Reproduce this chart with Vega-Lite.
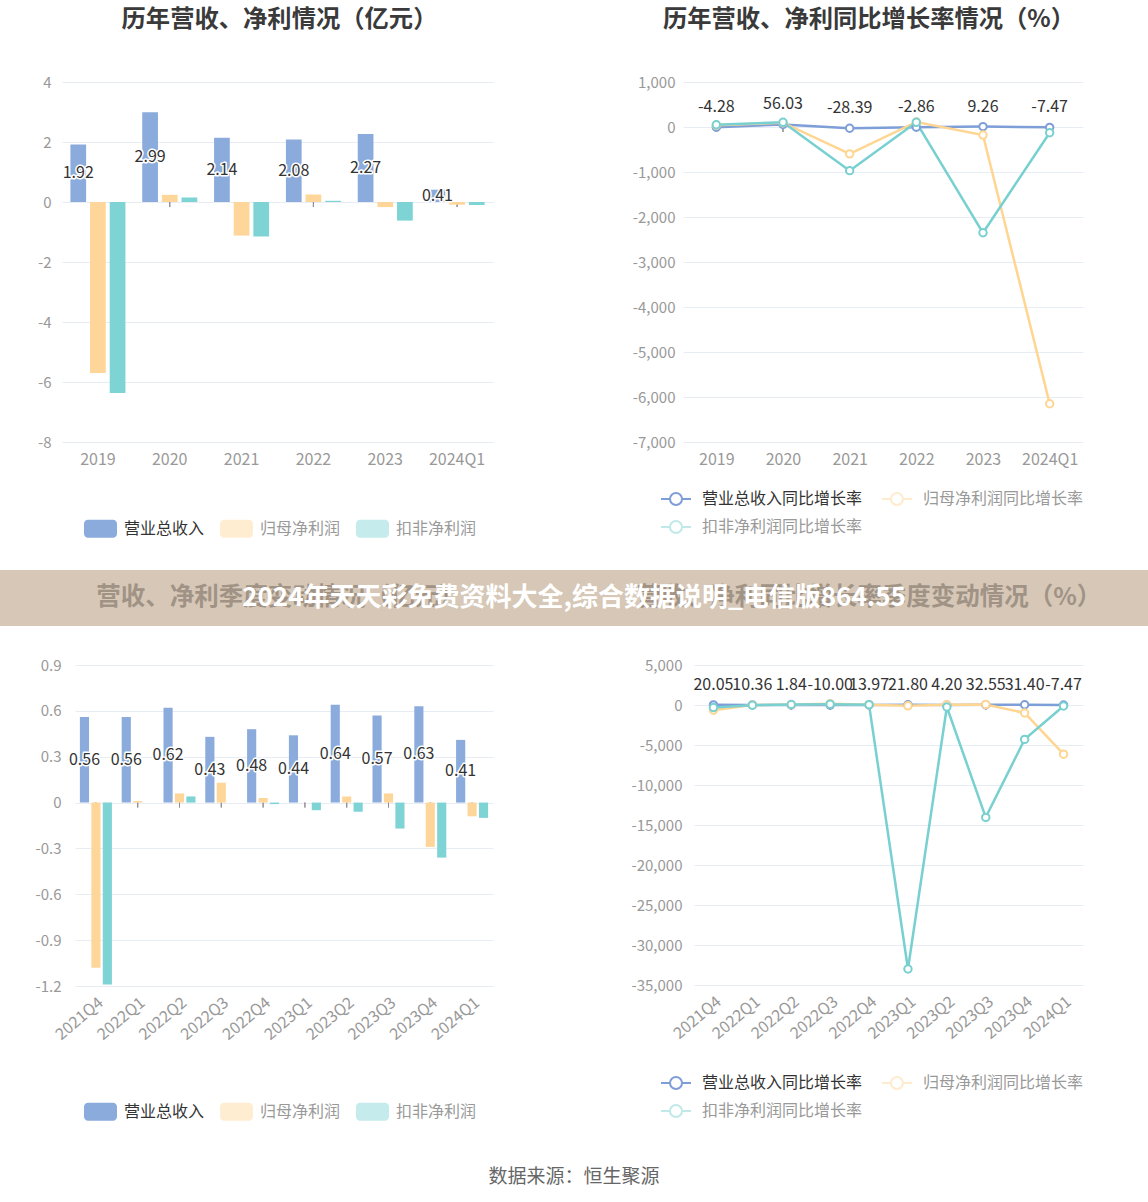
{
  "$schema": "https://vega.github.io/schema/vega-lite/v6.json",
  "background": "white",
  "padding": {"top": 7, "left": 0, "right": 0, "bottom": 0},
  "spacing": 32,
  "datasets": {
    "annual": [
      {"period": "2019", "series": "营业总收入", "value": 1.92},
      {"period": "2019", "series": "归母净利润", "value": -5.70},
      {"period": "2019", "series": "扣非净利润", "value": -6.37},
      {"period": "2020", "series": "营业总收入", "value": 2.99},
      {"period": "2020", "series": "归母净利润", "value": 0.24},
      {"period": "2020", "series": "扣非净利润", "value": 0.15},
      {"period": "2021", "series": "营业总收入", "value": 2.14},
      {"period": "2021", "series": "归母净利润", "value": -1.12},
      {"period": "2021", "series": "扣非净利润", "value": -1.15},
      {"period": "2022", "series": "营业总收入", "value": 2.08},
      {"period": "2022", "series": "归母净利润", "value": 0.25},
      {"period": "2022", "series": "扣非净利润", "value": 0.04},
      {"period": "2023", "series": "营业总收入", "value": 2.27},
      {"period": "2023", "series": "归母净利润", "value": -0.17},
      {"period": "2023", "series": "扣非净利润", "value": -0.62},
      {"period": "2024Q1", "series": "营业总收入", "value": 0.41},
      {"period": "2024Q1", "series": "归母净利润", "value": -0.09},
      {"period": "2024Q1", "series": "扣非净利润", "value": -0.10}
    ],
    "annualGrowth": [
      {"period": "2019", "series": "营业总收入同比增长率", "value": -4.28},
      {"period": "2020", "series": "营业总收入同比增长率", "value": 56.03},
      {"period": "2021", "series": "营业总收入同比增长率", "value": -28.39},
      {"period": "2022", "series": "营业总收入同比增长率", "value": -2.86},
      {"period": "2023", "series": "营业总收入同比增长率", "value": 9.26},
      {"period": "2024Q1", "series": "营业总收入同比增长率", "value": -7.47},
      {"period": "2019", "series": "归母净利润同比增长率", "value": 40},
      {"period": "2020", "series": "归母净利润同比增长率", "value": 95},
      {"period": "2021", "series": "归母净利润同比增长率", "value": -597},
      {"period": "2022", "series": "归母净利润同比增长率", "value": 112},
      {"period": "2023", "series": "归母净利润同比增长率", "value": -179},
      {"period": "2024Q1", "series": "归母净利润同比增长率", "value": -6150},
      {"period": "2019", "series": "扣非净利润同比增长率", "value": 50},
      {"period": "2020", "series": "扣非净利润同比增长率", "value": 104},
      {"period": "2021", "series": "扣非净利润同比增长率", "value": -970},
      {"period": "2022", "series": "扣非净利润同比增长率", "value": 104},
      {"period": "2023", "series": "扣非净利润同比增长率", "value": -2351},
      {"period": "2024Q1", "series": "扣非净利润同比增长率", "value": -127}
    ],
    "quarter": [
      {"period": "2021Q4", "series": "营业总收入", "value": 0.56},
      {"period": "2021Q4", "series": "归母净利润", "value": -1.08},
      {"period": "2021Q4", "series": "扣非净利润", "value": -1.19},
      {"period": "2022Q1", "series": "营业总收入", "value": 0.56},
      {"period": "2022Q1", "series": "归母净利润", "value": 0.01},
      {"period": "2022Q1", "series": "扣非净利润", "value": 0.0},
      {"period": "2022Q2", "series": "营业总收入", "value": 0.62},
      {"period": "2022Q2", "series": "归母净利润", "value": 0.06},
      {"period": "2022Q2", "series": "扣非净利润", "value": 0.04},
      {"period": "2022Q3", "series": "营业总收入", "value": 0.43},
      {"period": "2022Q3", "series": "归母净利润", "value": 0.13},
      {"period": "2022Q3", "series": "扣非净利润", "value": 0.0},
      {"period": "2022Q4", "series": "营业总收入", "value": 0.48},
      {"period": "2022Q4", "series": "归母净利润", "value": 0.03},
      {"period": "2022Q4", "series": "扣非净利润", "value": -0.01},
      {"period": "2023Q1", "series": "营业总收入", "value": 0.44},
      {"period": "2023Q1", "series": "归母净利润", "value": 0.0},
      {"period": "2023Q1", "series": "扣非净利润", "value": -0.05},
      {"period": "2023Q2", "series": "营业总收入", "value": 0.64},
      {"period": "2023Q2", "series": "归母净利润", "value": 0.04},
      {"period": "2023Q2", "series": "扣非净利润", "value": -0.06},
      {"period": "2023Q3", "series": "营业总收入", "value": 0.57},
      {"period": "2023Q3", "series": "归母净利润", "value": 0.06},
      {"period": "2023Q3", "series": "扣非净利润", "value": -0.17},
      {"period": "2023Q4", "series": "营业总收入", "value": 0.63},
      {"period": "2023Q4", "series": "归母净利润", "value": -0.29},
      {"period": "2023Q4", "series": "扣非净利润", "value": -0.36},
      {"period": "2024Q1", "series": "营业总收入", "value": 0.41},
      {"period": "2024Q1", "series": "归母净利润", "value": -0.09},
      {"period": "2024Q1", "series": "扣非净利润", "value": -0.10}
    ],
    "quarterGrowth": [
      {"period": "2021Q4", "series": "营业总收入同比增长率", "value": 20.05},
      {"period": "2022Q1", "series": "营业总收入同比增长率", "value": 10.36},
      {"period": "2022Q2", "series": "营业总收入同比增长率", "value": 1.84},
      {"period": "2022Q3", "series": "营业总收入同比增长率", "value": -10.00},
      {"period": "2022Q4", "series": "营业总收入同比增长率", "value": 13.97},
      {"period": "2023Q1", "series": "营业总收入同比增长率", "value": 21.80},
      {"period": "2023Q2", "series": "营业总收入同比增长率", "value": 4.20},
      {"period": "2023Q3", "series": "营业总收入同比增长率", "value": 32.55},
      {"period": "2023Q4", "series": "营业总收入同比增长率", "value": 31.40},
      {"period": "2024Q1", "series": "营业总收入同比增长率", "value": -7.47},
      {"period": "2021Q4", "series": "归母净利润同比增长率", "value": -650},
      {"period": "2022Q1", "series": "归母净利润同比增长率", "value": 0},
      {"period": "2022Q2", "series": "归母净利润同比增长率", "value": 50},
      {"period": "2022Q3", "series": "归母净利润同比增长率", "value": 150},
      {"period": "2022Q4", "series": "归母净利润同比增长率", "value": 40},
      {"period": "2023Q1", "series": "归母净利润同比增长率", "value": -100},
      {"period": "2023Q2", "series": "归母净利润同比增长率", "value": 30},
      {"period": "2023Q3", "series": "归母净利润同比增长率", "value": 60},
      {"period": "2023Q4", "series": "归母净利润同比增长率", "value": -1000},
      {"period": "2024Q1", "series": "归母净利润同比增长率", "value": -6150},
      {"period": "2021Q4", "series": "扣非净利润同比增长率", "value": -320},
      {"period": "2022Q1", "series": "扣非净利润同比增长率", "value": -30},
      {"period": "2022Q2", "series": "扣非净利润同比增长率", "value": 60},
      {"period": "2022Q3", "series": "扣非净利润同比增长率", "value": 100},
      {"period": "2022Q4", "series": "扣非净利润同比增长率", "value": 40},
      {"period": "2023Q1", "series": "扣非净利润同比增长率", "value": -33000},
      {"period": "2023Q2", "series": "扣非净利润同比增长率", "value": -250},
      {"period": "2023Q3", "series": "扣非净利润同比增长率", "value": -14050},
      {"period": "2023Q4", "series": "扣非净利润同比增长率", "value": -4300},
      {"period": "2024Q1", "series": "扣非净利润同比增长率", "value": -127}
    ],
    "bannerTitles": [
      {"side": "左", "text": "营收、净利季度变动情况（亿元）"},
      {"side": "右", "text": "营收、净利同比增长率季度变动情况（%）"}
    ],
    "watermark": [{"text": "2024年天天彩免费资料大全,综合数据说明_电信版864.55"}],
    "source": [{"text": "数据来源：恒生聚源"}],
    "empty": []
  },
  "vconcat": [
    {
      "hconcat": [
        {"width": 1, "height": 1, "data": {"name": "empty"}, "mark": "point"},
        {
          "width": 431, "height": 360,
          "data": {"name": "annual"},
          "title": {"text": "历年营收、净利情况（亿元）", "fontSize": 24.3, "fontWeight": "bold", "color": "#3A3A3A", "frame": "group", "anchor": "middle", "dx": 2, "offset": 43},
          "encoding": {
            "x": {"field": "period", "type": "nominal", "sort": null, "scale": {"paddingInner": 0.234, "paddingOuter": 0.117}, "axis": {"labelAngle": 0, "labelPadding": 9}}
          },
          "layer": [
            {
              "layer": [
                {"mark": {"type": "tick", "orient": "vertical", "color": "#8A8A8A", "size": 5, "thickness": 1, "yOffset": 2.5}, "encoding": {"y": {"datum": 0, "type": "quantitative"}}},
                {
                  "mark": {"type": "bar"},
                  "encoding": {
                    "xOffset": {"field": "series", "type": "nominal", "sort": null, "scale": {"domain": ["营业总收入", "归母净利润", "扣非净利润"], "paddingInner": 0.2}},
                    "y": {"field": "value", "type": "quantitative", "stack": null, "scale": {"domain": [-8, 4], "nice": false}, "axis": {"values": [-8, -6, -4, -2, 0, 2, 4], "tickCount": 20, "format": "~g", "grid": true, "labelOverlap": false, "labelPadding": 11, "minExtent": 61, "maxExtent": 61}},
                    "color": {"field": "series", "type": "nominal", "scale": {"domain": ["营业总收入", "归母净利润", "扣非净利润"], "range": ["#8AABDB", "#FFD699", "#7ED3D5"]},
                      "legend": {"orient": "none", "legendX": 22, "legendY": 430, "direction": "horizontal", "title": null, "labelLimit": 400, "symbolType": "M-0.76,-0.545H0.76A0.24,0.24,0,0,1,1,-0.305V0.305A0.24,0.24,0,0,1,0.76,0.545H-0.76A0.24,0.24,0,0,1,-1,0.305V-0.305A0.24,0.24,0,0,1,-0.76,-0.545Z", "symbolSize": 1089, "symbolStrokeWidth": 0, "labelFontSize": 16, "labelOffset": 7, "columnPadding": 15,
                        "encode": {"labels": {"update": {"fill": {"signal": "datum.value === '营业总收入' ? '#333333' : '#999999'"}}}, "symbols": {"update": {"opacity": {"signal": "datum.value === '营业总收入' ? 1 : 0.45"}}}}}}
                  }
                },
                {"mark": {"type": "rule", "color": "#8A8A8A", "strokeWidth": 1.2}, "encoding": {"y": {"datum": 0, "type": "quantitative"}}}
              ]
            },
            {
              "transform": [{"filter": "datum.series === '营业总收入'"}],
              "encoding": {
                "xOffset": {"field": "series", "type": "nominal", "sort": null, "scale": {"domain": ["营业总收入", "归母净利润", "扣非净利润"], "paddingInner": 0.2}},
                "y": {"field": "value", "type": "quantitative", "scale": {"domain": [-16, 8], "nice": false}, "axis": null},
                "text": {"field": "value", "type": "quantitative", "format": ".2f"}
              },
              "layer": [
                {"mark": {"type": "text", "fontSize": 16, "fill": "white", "stroke": "white", "strokeWidth": 3, "strokeJoin": "round"}},
                {"mark": {"type": "text", "fontSize": 16, "fill": "#333333"}}
              ]
            }
          ],
          "resolve": {"scale": {"y": "independent"}}
        },
        {"width": 120, "height": 1, "data": {"name": "empty"}, "mark": "point"},
        {
          "width": 400, "height": 360,
          "data": {"name": "annualGrowth"},
          "title": {"text": "历年营收、净利同比增长率情况（%）", "fontSize": 24.3, "fontWeight": "bold", "color": "#3A3A3A", "frame": "group", "anchor": "middle", "dx": -14, "offset": 43},
          "encoding": {
            "x": {"field": "period", "type": "nominal", "sort": null, "scale": {"type": "point", "padding": 0.5}, "axis": {"labelAngle": 0, "labelPadding": 9}}
          },
          "layer": [
            {"mark": {"type": "tick", "orient": "vertical", "color": "#8A8A8A", "size": 5, "thickness": 1, "yOffset": 2.5}, "encoding": {"y": {"datum": 0, "type": "quantitative"}}},
            {"mark": {"type": "rule", "color": "#8A8A8A", "strokeWidth": 1.2}, "encoding": {"y": {"datum": 0, "type": "quantitative"}}},
            {
              "mark": {"type": "line", "strokeWidth": 2.5},
              "encoding": {
                "y": {"field": "value", "type": "quantitative", "scale": {"domain": [-7000, 1000], "nice": false}, "axis": {"values": [-7000, -6000, -5000, -4000, -3000, -2000, -1000, 0, 1000], "tickCount": 20, "format": ",.0f", "grid": true, "labelOverlap": false, "labelPadding": 8, "minExtent": 70, "maxExtent": 70}},
                "color": {"field": "series", "type": "nominal", "scale": {"domain": ["营业总收入同比增长率", "归母净利润同比增长率", "扣非净利润同比增长率"], "range": ["#7E9ED8", "#FFD592", "#78D0D0"]},
                  "legend": {"orient": "none", "legendX": -23, "legendY": 401, "direction": "horizontal", "columns": 2, "title": null, "labelLimit": 400, "symbolType": "M-1,0H-0.4M0.4,0H1M0.4,0A0.4,0.4,0,1,1,-0.4,0A0.4,0.4,0,1,1,0.4,0", "symbolSize": 900, "symbolStrokeWidth": 2, "labelFontSize": 16, "labelOffset": 10, "columnPadding": 15, "rowPadding": 2,
                    "encode": {"labels": {"update": {"fill": {"signal": "datum.value === '营业总收入同比增长率' ? '#333333' : '#999999'"}}}, "symbols": {"update": {"fill": {"value": "white"}, "opacity": {"signal": "datum.value === '营业总收入同比增长率' ? 1 : 0.45"}}}}}}
              }
            },
            {
              "mark": {"type": "point", "shape": "circle", "filled": false, "fill": "white", "size": 55, "strokeWidth": 2, "opacity": 1},
              "encoding": {
                "y": {"field": "value", "type": "quantitative"},
                "color": {"field": "series", "type": "nominal"}
              }
            },
            {
              "transform": [{"filter": "datum.series === '营业总收入同比增长率'"}],
              "mark": {"type": "text", "fontSize": 16, "dy": -20, "fill": "white", "stroke": "white", "strokeWidth": 3, "strokeJoin": "round"},
              "encoding": {"y": {"field": "value", "type": "quantitative"}, "text": {"field": "value", "type": "quantitative", "format": ".2f"}}
            },
            {
              "transform": [{"filter": "datum.series === '营业总收入同比增长率'"}],
              "mark": {"type": "text", "fontSize": 16, "dy": -20, "fill": "#333333"},
              "encoding": {"y": {"field": "value", "type": "quantitative"}, "text": {"field": "value", "type": "quantitative", "format": ".2f"}}
            }
          ]
        }
      ],
      "spacing": 0,
      "resolve": {"scale": {"color": "independent", "x": "independent", "y": "independent", "xOffset": "independent"}, "legend": {"color": "independent"}}
    },
    {
      "width": 1148, "height": 56,
      "view": {"fill": "#D6C7B7", "stroke": null},
      "layer": [
        {
          "data": {"name": "bannerTitles"},
          "mark": {"type": "text", "fontSize": 24.5, "fontWeight": "bold", "fill": "#A09385", "dx": 0.5},
          "encoding": {
            "x": {"field": "side", "type": "nominal", "sort": null, "scale": {"type": "point", "domain": ["左", "右"], "padding": 0.4745}, "axis": null},
            "text": {"field": "text", "type": "nominal"}
          }
        },
        {
          "data": {"name": "watermark"},
          "mark": {"type": "text", "fontSize": 26, "fontWeight": "bold", "fill": "white"},
          "encoding": {"text": {"field": "text", "type": "nominal"}}
        }
      ]
    },
    {
      "hconcat": [
        {"width": 1, "height": 1, "data": {"name": "empty"}, "mark": "point"},
        {
          "width": 418, "height": 321,
          "data": {"name": "quarter"},
          "encoding": {
            "x": {"field": "period", "type": "nominal", "sort": null, "scale": {"paddingInner": 0.234, "paddingOuter": 0.117}, "axis": {"labelAngle": -40, "labelPadding": 8}}
          },
          "layer": [
            {
              "layer": [
                {"mark": {"type": "tick", "orient": "vertical", "color": "#8A8A8A", "size": 5, "thickness": 1, "yOffset": 2.5}, "encoding": {"y": {"datum": 0, "type": "quantitative"}}},
                {
                  "mark": {"type": "bar"},
                  "encoding": {
                    "xOffset": {"field": "series", "type": "nominal", "sort": null, "scale": {"domain": ["营业总收入", "归母净利润", "扣非净利润"], "paddingInner": 0.2}},
                    "y": {"field": "value", "type": "quantitative", "stack": null, "scale": {"domain": [-1.2, 0.9], "nice": false}, "axis": {"values": [-1.2, -0.9, -0.6, -0.3, 0, 0.3, 0.6, 0.9], "tickCount": 20, "format": "~g", "grid": true, "labelOverlap": false, "labelPadding": 14, "minExtent": 74, "maxExtent": 74}},
                    "color": {"field": "series", "type": "nominal", "scale": {"domain": ["营业总收入", "归母净利润", "扣非净利润"], "range": ["#8AABDB", "#FFD699", "#7ED3D5"]},
                      "legend": {"orient": "none", "legendX": 9, "legendY": 430, "direction": "horizontal", "title": null, "labelLimit": 400, "symbolType": "M-0.76,-0.545H0.76A0.24,0.24,0,0,1,1,-0.305V0.305A0.24,0.24,0,0,1,0.76,0.545H-0.76A0.24,0.24,0,0,1,-1,0.305V-0.305A0.24,0.24,0,0,1,-0.76,-0.545Z", "symbolSize": 1089, "symbolStrokeWidth": 0, "labelFontSize": 16, "labelOffset": 7, "columnPadding": 15,
                        "encode": {"labels": {"update": {"fill": {"signal": "datum.value === '营业总收入' ? '#333333' : '#999999'"}}}, "symbols": {"update": {"opacity": {"signal": "datum.value === '营业总收入' ? 1 : 0.45"}}}}}}
                  }
                },
                {"mark": {"type": "rule", "color": "#8A8A8A", "strokeWidth": 1.2}, "encoding": {"y": {"datum": 0, "type": "quantitative"}}}
              ]
            },
            {
              "transform": [{"filter": "datum.series === '营业总收入'"}],
              "encoding": {
                "xOffset": {"field": "series", "type": "nominal", "sort": null, "scale": {"domain": ["营业总收入", "归母净利润", "扣非净利润"], "paddingInner": 0.2}},
                "y": {"field": "value", "type": "quantitative", "scale": {"domain": [-2.4, 1.8], "nice": false}, "axis": null},
                "text": {"field": "value", "type": "quantitative", "format": ".2f"}
              },
              "layer": [
                {"mark": {"type": "text", "fontSize": 16, "fill": "white", "stroke": "white", "strokeWidth": 3, "strokeJoin": "round"}},
                {"mark": {"type": "text", "fontSize": 16, "fill": "#333333"}}
              ]
            }
          ],
          "resolve": {"scale": {"y": "independent"}}
        },
        {"width": 121, "height": 1, "data": {"name": "empty"}, "mark": "point"},
        {
          "width": 389, "height": 320,
          "data": {"name": "quarterGrowth"},
          "encoding": {
            "x": {"field": "period", "type": "nominal", "sort": null, "scale": {"type": "point", "padding": 0.5}, "axis": {"labelAngle": -40, "labelPadding": 8}}
          },
          "layer": [
            {"mark": {"type": "tick", "orient": "vertical", "color": "#8A8A8A", "size": 5, "thickness": 1, "yOffset": 2.5}, "encoding": {"y": {"datum": 0, "type": "quantitative"}}},
            {"mark": {"type": "rule", "color": "#8A8A8A", "strokeWidth": 1.2}, "encoding": {"y": {"datum": 0, "type": "quantitative"}}},
            {
              "mark": {"type": "line", "strokeWidth": 2.5},
              "encoding": {
                "y": {"field": "value", "type": "quantitative", "scale": {"domain": [-35000, 5000], "nice": false}, "axis": {"values": [-35000, -30000, -25000, -20000, -15000, -10000, -5000, 0, 5000], "tickCount": 20, "format": ",.0f", "grid": true, "labelOverlap": false, "labelPadding": 12, "minExtent": 80, "maxExtent": 80}},
                "color": {"field": "series", "type": "nominal", "scale": {"domain": ["营业总收入同比增长率", "归母净利润同比增长率", "扣非净利润同比增长率"], "range": ["#7E9ED8", "#FFD592", "#78D0D0"]},
                  "legend": {"orient": "none", "legendX": -34, "legendY": 402, "direction": "horizontal", "columns": 2, "title": null, "labelLimit": 400, "symbolType": "M-1,0H-0.4M0.4,0H1M0.4,0A0.4,0.4,0,1,1,-0.4,0A0.4,0.4,0,1,1,0.4,0", "symbolSize": 900, "symbolStrokeWidth": 2, "labelFontSize": 16, "labelOffset": 10, "columnPadding": 15, "rowPadding": 2,
                    "encode": {"labels": {"update": {"fill": {"signal": "datum.value === '营业总收入同比增长率' ? '#333333' : '#999999'"}}}, "symbols": {"update": {"fill": {"value": "white"}, "opacity": {"signal": "datum.value === '营业总收入同比增长率' ? 1 : 0.45"}}}}}}
              }
            },
            {
              "mark": {"type": "point", "shape": "circle", "filled": false, "fill": "white", "size": 55, "strokeWidth": 2, "opacity": 1},
              "encoding": {
                "y": {"field": "value", "type": "quantitative"},
                "color": {"field": "series", "type": "nominal"}
              }
            },
            {
              "transform": [{"filter": "datum.series === '营业总收入同比增长率'"}],
              "mark": {"type": "text", "fontSize": 16, "dy": -20, "fill": "white", "stroke": "white", "strokeWidth": 3, "strokeJoin": "round"},
              "encoding": {"y": {"field": "value", "type": "quantitative"}, "text": {"field": "value", "type": "quantitative", "format": ".2f"}}
            },
            {
              "transform": [{"filter": "datum.series === '营业总收入同比增长率'"}],
              "mark": {"type": "text", "fontSize": 16, "dy": -20, "fill": "#333333"},
              "encoding": {"y": {"field": "value", "type": "quantitative"}, "text": {"field": "value", "type": "quantitative", "format": ".2f"}}
            }
          ]
        }
      ],
      "spacing": 0,
      "resolve": {"scale": {"color": "independent", "x": "independent", "y": "independent", "xOffset": "independent"}, "legend": {"color": "independent"}}
    },
    {
      "width": 1148, "height": 48,
      "data": {"name": "source"},
      "mark": {"type": "text", "fontSize": 19, "fill": "#666666"},
      "encoding": {"text": {"field": "text", "type": "nominal"}}
    }
  ],
  "resolve": {"scale": {"color": "independent", "x": "independent", "y": "independent", "xOffset": "independent"}, "legend": {"color": "independent"}},
  "config": {
    "font": "Noto Sans CJK SC",
    "view": {"stroke": null},
    "locale": {"number": {"decimal": ".", "thousands": ",", "grouping": [3], "currency": ["", ""], "minus": "-"}},
    "axis": {"domain": false, "ticks": false, "title": null, "labelColor": "#999999", "labelFont": "Noto Sans CJK SC", "gridColor": "#E8ECF4", "gridWidth": 1},
    "axisX": {"grid": false, "labelFontSize": 16},
    "axisY": {"labelFontSize": 15},
    "legend": {"labelFont": "Noto Sans CJK SC"},
    "title": {"font": "Noto Sans CJK SC"}
  }
}
